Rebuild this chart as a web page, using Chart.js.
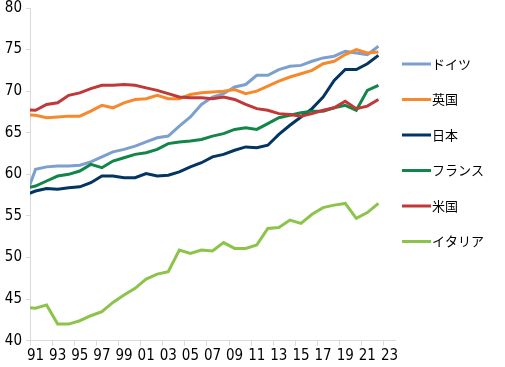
<!DOCTYPE html>
<html>
<head>
<meta charset="utf-8">
<script src="https://cdn.jsdelivr.net/npm/chart.js@4/dist/chart.umd.min.js"></script>
<style>
  html, body { margin: 0; padding: 0; background: #fff; }
</style>
</head>
<body>
<canvas id="chart-1" width="505" height="367"></canvas>
<script>
// 就業率の推移 (%), 1990-2022
const years = [1990, 1991, 1992, 1993, 1994, 1995, 1996, 1997, 1998, 1999, 2000,
  2001, 2002, 2003, 2004, 2005, 2006, 2007, 2008, 2009, 2010,
  2011, 2012, 2013, 2014, 2015, 2016, 2017, 2018, 2019, 2020, 2021, 2022];

const germany = [57.0, 60.6, 60.9, 61.0, 61.0, 61.1, 61.5, 62.1, 62.7, 63.0, 63.4,
  63.9, 64.4, 64.6, 65.8, 66.9, 68.4, 69.3, 69.7, 70.5, 70.8,
  71.9, 71.9, 72.6, 73.0, 73.1, 73.6, 74.0, 74.2, 74.8, 74.6, 74.4, 75.4];
const uk = [67.2, 67.1, 66.8, 66.9, 67.0, 67.0, 67.6, 68.3, 68.0, 68.6, 69.0,
  69.1, 69.5, 69.1, 69.1, 69.6, 69.8, 69.9, 70.0, 70.2, 69.7,
  70.0, 70.6, 71.2, 71.7, 72.1, 72.5, 73.3, 73.6, 74.4, 75.0, 74.6, 74.7];
const japan = [57.5, 58.0, 58.3, 58.2, 58.4, 58.5, 59.0, 59.8, 59.8, 59.6, 59.6,
  60.1, 59.8, 59.9, 60.3, 60.9, 61.4, 62.1, 62.4, 62.9, 63.3,
  63.2, 63.5, 64.8, 65.9, 66.9, 67.9, 69.3, 71.3, 72.6, 72.6, 73.3, 74.3];
const france = [58.3, 58.6, 59.2, 59.8, 60.0, 60.4, 61.2, 60.8, 61.6, 62.0, 62.4,
  62.6, 63.0, 63.7, 63.9, 64.0, 64.2, 64.6, 64.9, 65.4, 65.6,
  65.4, 66.1, 66.8, 67.1, 67.4, 67.6, 67.6, 68.0, 68.3, 67.7, 70.1, 70.7];
const usa = [67.8, 67.7, 68.4, 68.6, 69.5, 69.8, 70.3, 70.7, 70.7, 70.8, 70.7,
  70.4, 70.1, 69.7, 69.3, 69.2, 69.2, 69.1, 69.3, 69.0, 68.4,
  67.9, 67.7, 67.3, 67.2, 67.0, 67.3, 67.7, 68.0, 68.8, 67.9, 68.2, 69.0];
const italy = [44.0, 43.9, 44.3, 42.0, 42.0, 42.4, 43.0, 43.5, 44.6, 45.5, 46.3,
  47.4, 48.0, 48.3, 50.9, 50.5, 50.9, 50.8, 51.8, 51.1, 51.1,
  51.5, 53.5, 53.6, 54.5, 54.1, 55.2, 56.0, 56.3, 56.5, 54.7, 55.4, 56.5];

const seriesNames = ['ドイツ', '英国', '日本', 'フランス', '米国', 'イタリア'];
const seriesData = [germany, uk, japan, france, usa, italy];
const seriesColors = ['#7ca0ce', '#f7892d', '#033562', '#118648', '#c03938', '#8cc44a'];

// x軸: ラベルは奇数年、目盛線はその間
const labelYears = [1991, 1993, 1995, 1997, 1999, 2001, 2003, 2005, 2007, 2009, 2011,
  2013, 2015, 2017, 2019, 2021, 2023];
const tickYears = [1990.5, 1992.5, 1994.5, 1996.5, 1998.5, 2000.5, 2002.5, 2004.5, 2006.5,
  2008.5, 2010.5, 2012.5, 2014.5, 2016.5, 2018.5, 2020.5, 2022.5];

const axisFont = { family: '"Liberation Sans Narrow", "DejaVu Sans Condensed", sans-serif', size: 15, lineHeight: 1.2 };

const legendLines = {
  id: 'legendLines',
  afterDraw(chart) {
    const ctx = chart.ctx;
    ctx.save();
    ctx.font = '13px "Noto Sans CJK JP", sans-serif';
    ctx.textBaseline = 'middle';
    ctx.fillStyle = '#000';
    chart.data.datasets.forEach((ds, i) => {
      const y = 64 + i * 35.5;
      ctx.strokeStyle = ds.borderColor;
      ctx.lineWidth = 3;
      ctx.beginPath();
      ctx.moveTo(402, y);
      ctx.lineTo(431, y);
      ctx.stroke();
      ctx.fillText(ds.label, 432, y);
    });
    ctx.restore();
  }
};

const ctx1 = document.getElementById('chart-1').getContext('2d');
const myChart = new Chart(ctx1, {
  type: 'line',
  data: {
    datasets: seriesNames.map((name, i) => ({
      label: name,
      data: years.map((yr, j) => ({ x: yr, y: seriesData[i][j] })),
      borderColor: seriesColors[i],
      backgroundColor: seriesColors[i],
      borderWidth: 3,
      pointRadius: 0,
      tension: 0,
      order: seriesNames.length - i,
    })),
  },
  options: {
    responsive: false,
    animation: false,
    layout: { padding: { top: 8, right: 110, bottom: 0, left: 0 } },
    plugins: {
      legend: { display: false },
      tooltip: { enabled: false },
    },
    scales: {
      x: {
        type: 'linear',
        min: 1990.5,
        max: 2023.5,
        afterBuildTicks: (axis) => {
          axis.ticks = tickYears.concat(labelYears).sort((a, b) => a - b).map(v => ({ value: v }));
        },
        afterFit: (axis) => {
          axis.height = 26.3;
          axis.paddingLeft = 0;
          axis.paddingRight = 0;
        },
        ticks: {
          autoSkip: false,
          maxRotation: 0,
          padding: 1,
          color: '#000',
          font: axisFont,
          callback: (v) => Number.isInteger(v) ? String(v).slice(2) : '',
        },
        grid: {
          drawOnChartArea: false,
          tickLength: 5,
          tickColor: (c) => (c.tick && !Number.isInteger(c.tick.value)) ? '#d9d9d9' : 'rgba(0,0,0,0)',
        },
        border: { color: '#d9d9d9' },
      },
      y: {
        min: 40,
        max: 80,
        afterFit: (axis) => {
          axis.width = 30;
          axis.paddingTop = 0;
          axis.paddingBottom = 0;
        },
        ticks: {
          stepSize: 5,
          padding: 4,
          color: '#000',
          font: axisFont,
        },
        grid: {
          drawOnChartArea: false,
          tickLength: 4,
          tickColor: '#d9d9d9',
        },
        border: { color: '#d9d9d9' },
      },
    },
  },
  plugins: [legendLines],
});
</script>
</body>
</html>
